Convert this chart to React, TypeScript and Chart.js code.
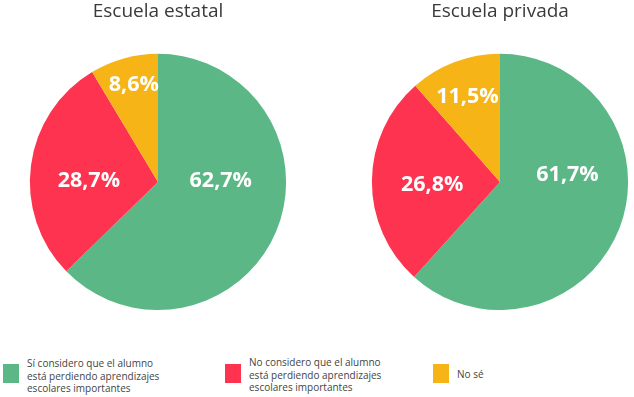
import React, { useEffect, useRef } from "react";
import { Chart, registerables } from "chart.js";

Chart.register(...registerables);

const categories = [
  "Sí considero que el alumno está perdiendo aprendizajes escolares importantes",
  "No considero que el alumno está perdiendo aprendizajes escolares importantes",
  "No sé",
];
const legendLines = [
  ["Sí considero que el alumno", "está perdiendo aprendizajes", "escolares importantes"],
  ["No considero que el alumno", "está perdiendo aprendizajes", "escolares importantes"],
  ["No sé"],
];
const estatalValues = [62.7, 28.7, 8.6];
const privadaValues = [61.7, 26.8, 11.5];
const titles = ["Escuela estatal", "Escuela privada"];
const colors = ["#5bb886", "#fe334f", "#f6b416"];

const FONT = "'Open Sans', 'DejaVu Sans', sans-serif";

const labelPlugin = {
  id: "sliceLabels",
  afterDatasetsDraw(chart: any, _args: any, opts: any) {
    const meta = chart.getDatasetMeta(0);
    const data = chart.data.datasets[0].data;
    const ctx = chart.ctx;
    ctx.save();
    ctx.fillStyle = "#ffffff";
    ctx.font = `bold ${opts.size || 21}px ${FONT}`;
    ctx.textAlign = "center";
    ctx.textBaseline = "middle";
    meta.data.forEach((arc: any, i: number) => {
      const anchor = (opts.anchors || [])[i];
      let ang = (arc.startAngle + arc.endAngle) / 2;
      let rf = 0.6;
      if (anchor) {
        ang = (anchor.a * Math.PI) / 180;
        rf = anchor.r;
      }
      const r = arc.outerRadius * rf;
      const x = arc.x + Math.cos(ang) * r;
      const y = arc.y + Math.sin(ang) * r;
      ctx.fillText(String(data[i]).replace(".", ",") + "%", x, y);
    });
    ctx.restore();
  },
};

function Pie({ values, title, left, width, anchors }: any) {
  const ref = useRef<HTMLCanvasElement>(null);
  useEffect(() => {
    const chart = new Chart(ref.current as HTMLCanvasElement, {
      type: "pie",
      data: {
        labels: categories,
        datasets: [
          {
            data: values,
            backgroundColor: colors,
            borderWidth: 0,
            hoverOffset: 0,
          },
        ],
      },
      options: {
        animation: false,
        responsive: false,
        maintainAspectRatio: false,
        layout: { padding: 0 },
        plugins: {
          legend: { display: false },
          tooltip: { enabled: false },
          title: {
            display: true,
            text: title,
            color: "#3a3a3a",
            font: { family: FONT, size: 19, weight: "normal" },
            padding: { top: 0, bottom: 31 },
          },
          sliceLabels: { anchors, size: 21.5 },
        } as any,
      },
      plugins: [labelPlugin],
    });
    return () => chart.destroy();
  }, []);
  return (
    <canvas
      ref={ref}
      width={width}
      height={310}
      style={{ position: "absolute", left, top: 0, width, height: 310 }}
    />
  );
}

export default function App() {
  return (
    <div
      style={{
        position: "fixed",
        left: 0,
        top: 0,
        width: 634,
        height: 397,
        background: "#ffffff",
        overflow: "hidden",
        fontFamily: FONT,
      }}
    >
      <Pie
        values={estatalValues}
        title={titles[0]}
        left={0}
        width={316}
        anchors={[
          { a: -1, r: 0.49 },
          { a: 181, r: 0.54 },
          { a: 256, r: 0.78 },
        ]}
      />
      <Pie
        values={privadaValues}
        title={titles[1]}
        left={366}
        width={268}
        anchors={[
          { a: -6, r: 0.53 },
          { a: 177.5, r: 0.53 },
          { a: 249, r: 0.71 },
        ]}
      />
      {legendLines.map((lines, i) => {
        const xs = [3, 225, 433];
        return (
          <div key={i}>
            <div
              style={{
                position: "absolute",
                left: xs[i],
                top: 364,
                width: 16,
                height: 19,
                background: colors[i],
              }}
            />
            <div
              style={{
                position: "absolute",
                left: xs[i] + 24,
                top: lines.length === 1 ? 368 : i === 0 ? 357 : 356,
                fontSize: 10,
                lineHeight: "12.5px",
                color: "#444444",
                whiteSpace: "nowrap",
              }}
            >
              {lines.map((l, j) => (
                <div key={j}>{l}</div>
              ))}
            </div>
          </div>
        );
      })}
    </div>
  );
}
